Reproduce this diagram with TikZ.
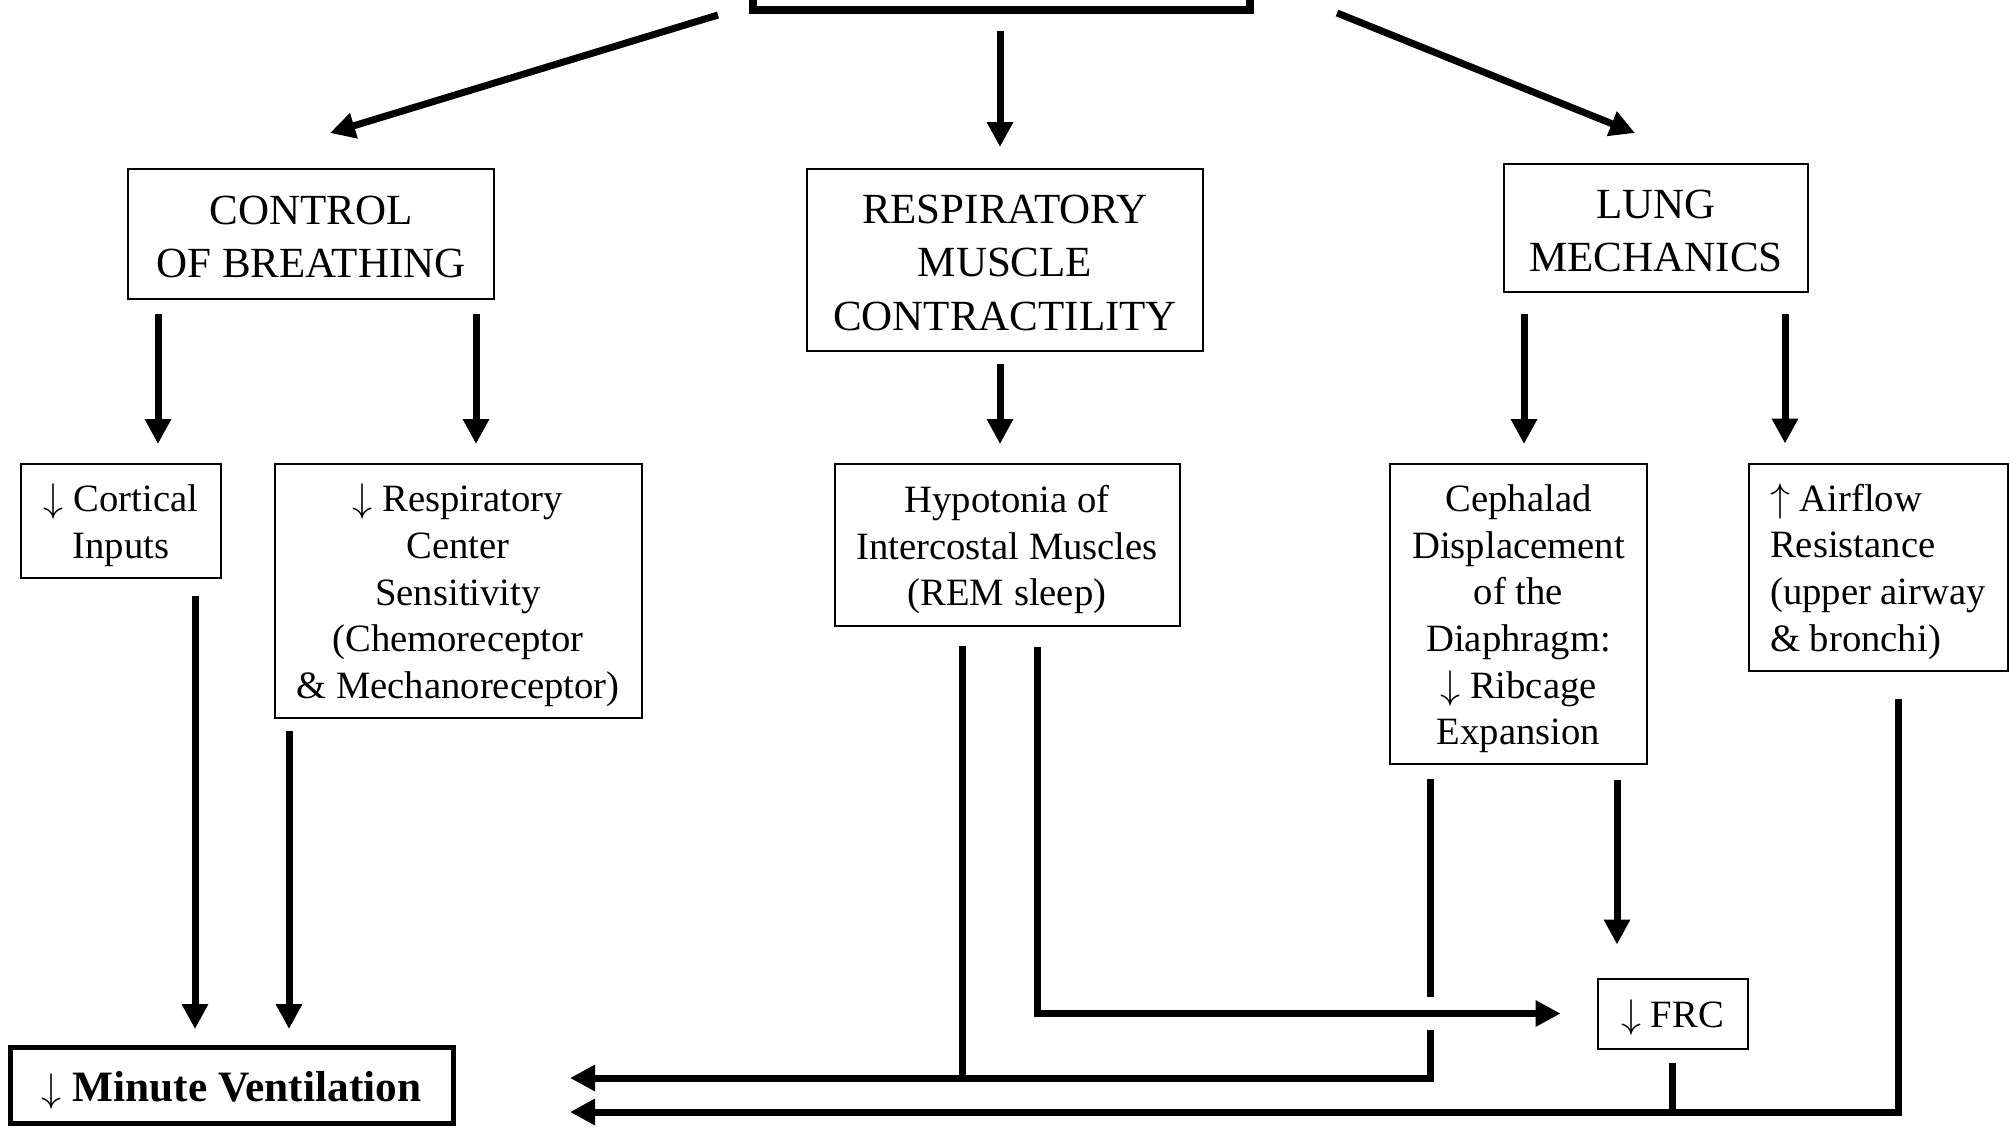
\documentclass[tikz,border=0pt]{standalone}
\usepackage{fontspec}
\setmainfont{Liberation Serif}
\usetikzlibrary{arrows.meta}
\newcommand{\bstrut}{\rule{0pt}{10.2pt}}
\newcommand{\sstrut}{\rule{0pt}{11pt}}
\newcommand{\mstrut}{\rule{0pt}{12pt}}

\begin{document}
\begin{tikzpicture}[x=0.3pt, y=-0.3pt, >={Triangle[length=7.5pt,width=7.5pt]},
  box/.style={draw, line width=0.6pt, inner sep=0pt, outer sep=0pt, align=center},
  big/.style={font=\fontsize{12.9}{16}\selectfont},
  small/.style={font=\fontsize{11.6}{14}\selectfont},
  wire/.style={line width=2.1pt}]
  \useasboundingbox (0,0) rectangle (2011,1128);
  \clip (0,0) rectangle (2011,1128);

  \node (top) [box, line width=2.4pt, minimum width=149.1pt, minimum height=30pt] at (1001.5,-40) {};
  \node (cob) [box, big, minimum width=109.8pt, minimum height=39pt] at (311,234) {\bstrut CONTROL\\OF BREATHING};
  \node (rmc) [box, big, minimum width=118.8pt, minimum height=54.6pt] at (1005,260) {\bstrut RESPIRATORY\\MUSCLE\\CONTRACTILITY};
  \node (lm) [box, big, minimum width=91.2pt, minimum height=38.4pt] at (1656,228) {\bstrut LUNG\\MECHANICS};
  \node (cort) [box, small, minimum width=60pt, minimum height=34.2pt] at (121,521) {\sstrut$\downarrow$ Cortical\\Inputs};
  \node (rcs) [box, small, minimum width=110.1pt, minimum height=76.2pt] at (458,591)
    {\sstrut$\downarrow$ Respiratory\\Center\\Sensitivity\\(Chemoreceptor\\\& Mechanoreceptor)};
  \node (hyp) [box, small, minimum width=103.5pt, minimum height=48.6pt] at (1007,545)
    {\sstrut Hypotonia of\\Intercostal Muscles\\(REM sleep)};
  \node (ceph) [box, small, minimum width=77.1pt, minimum height=90pt] at (1518.5,614)
    {\sstrut Cephalad\\Displacement\\of the\\Diaphragm:\\$\downarrow$ Ribcage\\Expansion};
  \node (air) [box, small, align=left, minimum width=77.7pt, minimum height=62.1pt] at (1878,567)
    {\sstrut$\uparrow$ Airflow\\Resistance\\(upper airway\\\& bronchi)};
  \node (frc) [box, small, minimum width=45pt, minimum height=21pt] at (1672.5,1013.5) {\sstrut$\downarrow$ FRC};
  \node (mv) [box, line width=1.5pt, font=\fontsize{13}{16}\selectfont\bfseries,
    minimum width=132.9pt, minimum height=22.8pt] at (231.5,1085) {\mstrut$\downarrow$ Minute Ventilation};

  \foreach \c/\x in {c1/158, c2/476, m1/1000, l1/1524, l2/1785, v1/195, v2/289,
                     h1/962, h2/1037, d1/1430, d2/1617, a1/1898}
    \coordinate (\c) at (\x,0);
  \coordinate (b1) at ([shift={(117,-7)}]mv.east);
  \coordinate (b2) at ([shift={(117,27)}]mv.east);

  \draw[->, wire] ([shift={(-35,5)}]top.south west) -- ([shift={(19,-36)}]cob.north);
  \draw[->, wire] ([shift={(87,3)}]top.south east) -- ([shift={(-21,-31)}]lm.north);
\path[->, wire]
  (top.south -| m1) edge[shorten <=6.3pt, shorten >=6.6pt] (rmc.north -| m1)
  (cob.south -| c1) edge[shorten <=4.5pt, shorten >=6pt] (cort.north -| c1)
  (cob.south -| c2) edge[shorten <=4.5pt, shorten >=6pt] (rcs.north -| c2)
  (rmc.south -| m1) edge[shorten <=3.9pt, shorten >=6pt] (hyp.north -| m1)
  (lm.south -| l1) edge[shorten <=6.6pt, shorten >=6pt] (ceph.north -| l1)
  (lm.south -| l2) edge[shorten <=6.6pt, shorten >=6pt] (air.north -| l2)
  (cort.south -| v1) edge[shorten <=5.4pt, shorten >=5.4pt] (mv.north -| v1)
  (rcs.south -| v2) edge[shorten <=3.9pt, shorten >=5.4pt] (mv.north -| v2)
  (ceph.south -| d2) edge[shorten <=4.8pt, shorten >=10.2pt] (frc.north -| d2);

  % upper line into minute ventilation
  \draw[wire, shorten <=6pt] (hyp.south -| h1) -- (h1 |- b1);
  \draw[wire, shorten <=4.5pt, shorten >=5.1pt] (ceph.south -| d1) -- (d1 |- frc.west);
  \draw[wire, ->] (d1 |- frc.west) ++(0,16) -- (d1 |- b1) -- (b1);
  \draw[wire, ->, shorten <=6.3pt, shorten >=11.1pt] (hyp.south -| h2) -- (h2 |- frc.west) -- (frc.west);
  % lower line
  \draw[wire, shorten <=4.2pt] (frc.south) -- (frc.south |- b2);
  \draw[wire, ->, shorten <=8.4pt] (air.south -| a1) -- (a1 |- b2) -- (b2);
\end{tikzpicture}
\end{document}
